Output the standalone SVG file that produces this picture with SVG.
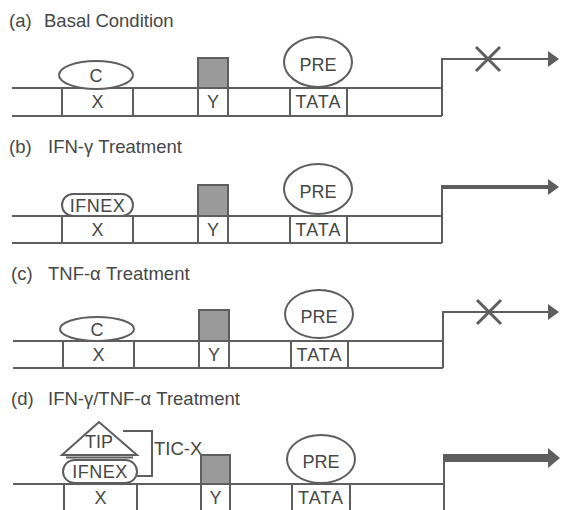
<svg xmlns="http://www.w3.org/2000/svg" width="561" height="510" viewBox="0 0 561 510">
<defs>
<style>
.ln{fill:none;stroke:#5e5e5e;stroke-width:2}
.box{fill:#fff;stroke:#5e5e5e;stroke-width:2}
.shade{fill:#9a9a9a;stroke:#5e5e5e;stroke-width:2}
.t{font-family:"Liberation Sans",Arial,sans-serif;font-size:18.5px;fill:#474747}
.lbl{font-family:"Liberation Sans",Arial,sans-serif;font-size:18px;fill:#474747;text-anchor:middle}
.cross{stroke:#5e5e5e;stroke-width:3;fill:none}
.arr{fill:none;stroke:#5e5e5e}
</style>
<marker id="ah" markerUnits="userSpaceOnUse" viewBox="0 0 11 16" markerWidth="11" markerHeight="16" refX="0" refY="8" orient="auto">
<path d="M0,0 L11,8 L0,16 z" fill="#5e5e5e"/>
</marker>
<marker id="ahBig" markerUnits="userSpaceOnUse" viewBox="0 0 12 20" markerWidth="12" markerHeight="20" refX="0" refY="10" orient="auto">
<path d="M0,0 L12,10 L0,20 z" fill="#5e5e5e"/>
</marker>
</defs>
<rect width="561" height="510" fill="#fff"/>

<!-- Titles -->
<g id="titles">
<text class="t" x="9" y="27">(a)<tspan x="44">Basal Condition</tspan></text>
<text class="t" x="9" y="153">(b)<tspan x="48">IFN-γ Treatment</tspan></text>
<text class="t" x="11" y="280">(c)<tspan x="48">TNF-α Treatment</tspan></text>
<text class="t" x="11" y="405">(d)<tspan x="48">IFN-γ/TNF-α Treatment</tspan></text>
</g>

<!-- Panel a -->
<g id="panel-a">
<g id="a-dna"><path class="ln" d="M12,88 H442 M12,116 H442"/></g>
<g id="a-X"><rect class="box" x="62" y="88" width="71" height="28"/><text class="lbl" x="97.5" y="108">X</text></g>
<g id="a-C"><ellipse class="box" cx="96" cy="75" rx="37" ry="14"/><text class="lbl" x="96" y="82">C</text></g>
<g id="a-Y"><rect class="shade" x="198" y="58" width="30" height="30"/><rect class="box" x="198" y="88" width="30" height="28"/><text class="lbl" x="213" y="108">Y</text></g>
<g id="a-TATA"><rect class="box" x="290" y="88" width="57" height="28"/><text class="lbl" x="318.5" y="108" letter-spacing="1">TATA</text></g>
<g id="a-PRE"><ellipse class="box" cx="318" cy="62" rx="34" ry="25"/><text class="lbl" x="318" y="71">PRE</text></g>
</g>

<!-- Panel b -->
<g id="panel-b">
<g id="b-dna"><path class="ln" d="M12,216 H442 M12,243 H442"/></g>
<g id="b-X"><rect class="box" x="62" y="216" width="71" height="27"/><text class="lbl" x="97.5" y="236">X</text></g>
<g id="b-IFNEX"><rect class="box" x="62" y="194" width="71" height="22" rx="11"/><text class="lbl" x="97.5" y="212" letter-spacing="0.5">IFNEX</text></g>
<g id="b-Y"><rect class="shade" x="198" y="185" width="30" height="31"/><rect class="box" x="198" y="216" width="30" height="27"/><text class="lbl" x="213" y="236">Y</text></g>
<g id="b-TATA"><rect class="box" x="290" y="216" width="57" height="27"/><text class="lbl" x="318.5" y="236" letter-spacing="1">TATA</text></g>
<g id="b-PRE"><ellipse class="box" cx="318" cy="189" rx="34" ry="25"/><text class="lbl" x="318" y="198">PRE</text></g>
</g>

<!-- Panel c -->
<g id="panel-c">
<g id="c-dna"><path class="ln" d="M13,341 H443 M13,368 H443"/></g>
<g id="c-X"><rect class="box" x="63" y="341" width="71" height="27"/><text class="lbl" x="98.5" y="361">X</text></g>
<g id="c-C"><ellipse class="box" cx="97" cy="329" rx="37" ry="12"/><text class="lbl" x="97" y="336">C</text></g>
<g id="c-Y"><rect class="shade" x="199" y="310" width="30" height="31"/><rect class="box" x="199" y="341" width="30" height="27"/><text class="lbl" x="214" y="361">Y</text></g>
<g id="c-TATA"><rect class="box" x="291" y="341" width="57" height="27"/><text class="lbl" x="319.5" y="361" letter-spacing="1">TATA</text></g>
<g id="c-PRE"><ellipse class="box" cx="319" cy="314" rx="34" ry="24"/><text class="lbl" x="319" y="323">PRE</text></g>
</g>

<!-- Panel d -->
<g id="panel-d">
<g id="d-dna"><path class="ln" d="M13,484 H444 M13,512 H444"/></g>
<g id="d-X"><rect class="box" x="64" y="484" width="73" height="28"/><text class="lbl" x="100.5" y="504">X</text></g>
<g id="d-TIP"><polygon class="box" points="99,422 62,455 137,455"/><text class="lbl" x="99" y="448">TIP</text></g>
<g id="d-IFNEX"><rect class="box" x="63" y="460" width="74" height="23" rx="11.5"/><text class="lbl" x="100" y="478" letter-spacing="0.5">IFNEX</text></g>
<g id="d-bar"><path class="ln" d="M66,457.5 H133" stroke-width="3"/></g>
<g id="d-TICX"><path class="ln" d="M123,431 H152 V476 H137"/><text class="t" x="154" y="455">TIC-X</text></g>
<g id="d-Y"><rect class="shade" x="201" y="455" width="29" height="29"/><rect class="box" x="201" y="484" width="29" height="28"/><text class="lbl" x="215.5" y="504">Y</text></g>
<g id="d-TATA"><rect class="box" x="292" y="484" width="58" height="28"/><text class="lbl" x="321" y="504" letter-spacing="1">TATA</text></g>
<g id="d-PRE"><ellipse class="box" cx="321" cy="459" rx="34" ry="24"/><text class="lbl" x="321" y="468">PRE</text></g>
</g>

<!-- Connectors (transcription arrows) -->
<g id="connectors">
<path class="arr" stroke-width="2" d="M442,116 V59 H548" marker-end="url(#ah)"/>
<path class="cross" d="M476,47 L500,71 M500,47 L476,71"/>
<path class="arr" stroke-width="2" d="M442,243 V187"/>
<path class="arr" stroke-width="4" d="M441,187 H548" marker-end="url(#ah)"/>
<path class="arr" stroke-width="2" d="M443,368 V312 H548" marker-end="url(#ah)"/>
<path class="cross" d="M477,300 L501,324 M501,300 L477,324"/>
<path class="arr" stroke-width="2" d="M444,512 V458"/>
<path class="arr" stroke-width="8" d="M443,458 H548" marker-end="url(#ahBig)"/>
</g>
</svg>
